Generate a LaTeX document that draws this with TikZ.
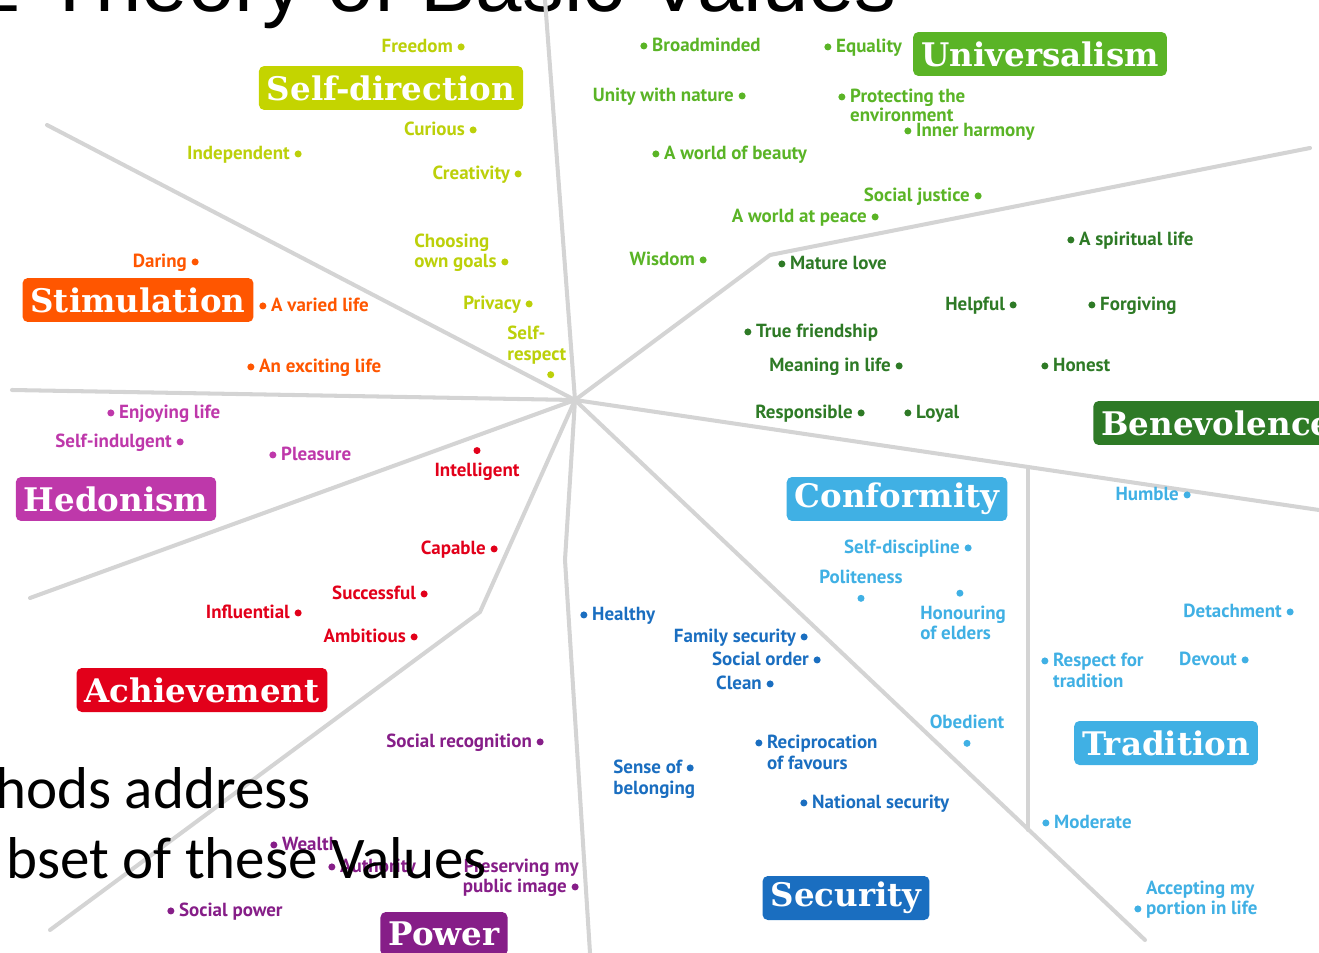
\documentclass[tikz,border=0pt]{standalone}
\usepackage{fontspec}
\setmainfont{Liberation Sans}
\newfontfamily\labelfont{PT Sans}
\newfontfamily\boxfont{DejaVu Serif}
\newfontfamily\slidefont{Carlito}
\usetikzlibrary{positioning}

\definecolor{sdcol}{RGB}{188,208,10}
\definecolor{sdbox}{RGB}{196,212,0}
\definecolor{uncol}{RGB}{90,180,38}
\definecolor{becol}{RGB}{46,122,38}
\definecolor{trcol}{RGB}{64,176,228}
\definecolor{secol}{RGB}{26,110,192}
\definecolor{pocol}{RGB}{134,30,136}
\definecolor{accol}{RGB}{226,0,26}
\definecolor{hecol}{RGB}{190,56,170}
\definecolor{stcol}{RGB}{255,86,0}
\definecolor{divcol}{RGB}{212,212,212}

\newcommand{\dt}{\tikz[baseline=-0.3em]\fill (0,0) circle (2pt);}

\begin{document}
\begin{tikzpicture}[x=0.02cm, y=-0.02cm,
    divider/.style = {draw=divcol, line width=2.3pt, line join=round, line cap=round},
    valbox/.style = {fill=#1, text=white, rounded corners=3pt, minimum height=0.88cm, inner xsep=0.16cm, font=\boxfont\bfseries\fontsize{18.5}{20}\selectfont},
    lbl/.style = {text=#1, inner sep=0pt, font=\labelfont\bfseries\fontsize{10.8}{11.6}\selectfont},
    slide/.style = {text=black, inner sep=0pt, font=\slidefont\fontsize{33.6}{40}\selectfont}]
    \useasboundingbox (0,0) rectangle (1319,953);
    \clip (0,0) rectangle (1319,953);

    \node[anchor=base east, inner sep=0pt, font=\fontsize{47.5}{52}\selectfont] (title) at (897,12) {Schwartz Theory of Basic Values};

    \coordinate (c) at (575,400);
    \coordinate (e1) at (545,0);
    \coordinate (e2) at (47,125);
    \coordinate (e3) at (12,390);
    \coordinate (e4) at (30,598);
    \coordinate (k5) at (480,612);
    \coordinate (e5) at (50,930);
    \coordinate (k6) at (565,560);
    \coordinate (e6) at (590,953);
    \coordinate (e7) at (1145,940);
    \coordinate (e8) at (1319,510);
    \coordinate (t1) at (1028,467);
    \coordinate (t2) at (1028,830);
    \coordinate (k10) at (770,255);
    \coordinate (e10) at (1310,148);
    \draw[divider] (c) -- (e1);
    \draw[divider] (c) -- (e2);
    \draw[divider] (c) -- (e3);
    \draw[divider] (c) -- (e4);
    \draw[divider] (c) -- (k5) -- (e5);
    \draw[divider] (c) -- (k6) -- (e6);
    \draw[divider] (c) -- (e7);
    \draw[divider] (c) -- (e8);
    \draw[divider] (t1) -- (t2);
    \draw[divider] (c) -- (k10) -- (e10);

    \node[lbl=sdcol, anchor=mid east] (freedom) at (465,48) {Freedom \dt};
    \node[lbl=sdcol, anchor=mid east] (curious) at (477,131) {Curious \dt};
    \node[lbl=sdcol, anchor=mid east] (indep) at (302,155) {Independent \dt};
    \node[lbl=sdcol, anchor=mid east] (creat) at (522,175) {Creativity \dt};
    \node[lbl=sdcol, anchor=mid west] (goals) at (414,263) {\begin{tabular}[b]{@{}l@{}}Choosing\\own goals \dt\end{tabular}};
    \node[lbl=sdcol, anchor=mid east] (privacy) at (533,305) {Privacy \dt};
    \node[lbl=sdcol, anchor=mid west] (selfresp) at (507,335) {\begin{tabular}[t]{@{}l@{}}Self-\\respect\\\hspace*{2.1em}\dt\end{tabular}};

    \node[lbl=uncol, anchor=mid west] (broad) at (640,47) {\dt\ Broadminded};
    \node[lbl=uncol, anchor=mid west] (equal) at (824,48) {\dt\ Equality};
    \node[lbl=uncol, anchor=mid east] (unity) at (746,97) {Unity with nature \dt};
    \node[lbl=uncol, anchor=mid west] (protect) at (838,98) {\renewcommand{\arraystretch}{0.82}\dt\ \begin{tabular}[t]{@{}l@{}}Protecting the\\environment\end{tabular}};
    \node[lbl=uncol, anchor=mid west] (inner) at (904,132) {\dt\ Inner harmony};
    \node[lbl=uncol, anchor=mid west] (beauty) at (652,155) {\dt\ A world of beauty};
    \node[lbl=uncol, anchor=mid east] (justice) at (982,197) {Social justice \dt};
    \node[lbl=uncol, anchor=mid east] (peace) at (879,218) {A world at peace \dt};
    \node[lbl=uncol, anchor=mid east] (wisdom) at (707,261) {Wisdom \dt};

    \node[lbl=becol, anchor=mid west] (spirit) at (1067,241) {\dt\ A spiritual life};
    \node[lbl=becol, anchor=mid west] (mature) at (778,265) {\dt\ Mature love};
    \node[lbl=becol, anchor=mid east] (helpful) at (1017,306) {Helpful \dt};
    \node[lbl=becol, anchor=mid west] (forgive) at (1088,306) {\dt\ Forgiving};
    \node[lbl=becol, anchor=mid west] (friend) at (744,333) {\dt\ True friendship};
    \node[lbl=becol, anchor=mid east] (meaning) at (903,367) {Meaning in life \dt};
    \node[lbl=becol, anchor=mid west] (honest) at (1041,367) {\dt\ Honest};
    \node[lbl=becol, anchor=mid east] (respons) at (865,414) {Responsible \dt};
    \node[lbl=becol, anchor=mid west] (loyal) at (904,414) {\dt\ Loyal};

    \node[lbl=trcol, anchor=mid east] (humble) at (1191,496) {Humble \dt};
    \node[lbl=trcol, anchor=mid east] (discip) at (972,549) {Self-discipline \dt};
    \node[lbl=trcol, anchor=mid] (polite) at (861,579) {\begin{tabular}[t]{@{}c@{}}Politeness\\\dt\end{tabular}};
    \node[lbl=trcol, anchor=mid west] (elders) at (920,635) {\begin{tabular}[b]{@{}l@{}}\hspace*{1.9em}\dt\\Honouring\\of elders\end{tabular}};
    \node[lbl=trcol, anchor=mid east] (detach) at (1294,613) {Detachment \dt};
    \node[lbl=trcol, anchor=mid west] (respect) at (1041,662) {\dt\ \begin{tabular}[t]{@{}l@{}}Respect for\\tradition\end{tabular}};
    \node[lbl=trcol, anchor=mid east] (devout) at (1249,661) {Devout \dt};
    \node[lbl=trcol, anchor=mid] (obed) at (967,724) {\begin{tabular}[t]{@{}c@{}}Obedient\\\dt\end{tabular}};
    \node[lbl=trcol, anchor=mid west] (moder) at (1042,824) {\dt\ Moderate};
    \node[lbl=trcol, anchor=mid west] (accept) at (1134,910) {\dt\ \begin{tabular}[b]{@{}l@{}}Accepting my\\portion in life\end{tabular}};

    \node[lbl=secol, anchor=mid west] (healthy) at (580,616) {\dt\ Healthy};
    \node[lbl=secol, anchor=mid east] (family) at (808,638) {Family security \dt};
    \node[lbl=secol, anchor=mid east] (order) at (821,661) {Social order \dt};
    \node[lbl=secol, anchor=mid east] (clean) at (774,685) {Clean \dt};
    \node[lbl=secol, anchor=mid west] (recip) at (755,744) {\dt\ \begin{tabular}[t]{@{}l@{}}Reciprocation\\of favours\end{tabular}};
    \node[lbl=secol, anchor=mid west] (belong) at (613,769) {\begin{tabular}[t]{@{}l@{}}Sense of \dt\\belonging\end{tabular}};
    \node[lbl=secol, anchor=mid west] (national) at (800,804) {\dt\ National security};

    \node[lbl=pocol, anchor=mid east] (recog) at (544,743) {Social recognition \dt};
    \node[lbl=pocol, anchor=mid west] (wealth) at (270,846) {\dt\ Wealth};
    \node[lbl=pocol, anchor=mid west] (author) at (328,868) {\dt\ Authority};
    \node[lbl=pocol, anchor=mid east] (public) at (579,888) {\begin{tabular}[b]{@{}r@{}}Preserving my\\public image \dt\end{tabular}};
    \node[lbl=pocol, anchor=mid west] (socpow) at (167,912) {\dt\ Social power};

    \node[lbl=accol, anchor=mid] (intel) at (477,472) {\begin{tabular}[b]{@{}c@{}}\dt\\Intelligent\end{tabular}};
    \node[lbl=accol, anchor=mid east] (capable) at (498,550) {Capable \dt};
    \node[lbl=accol, anchor=mid east] (success) at (428,595) {Successful \dt};
    \node[lbl=accol, anchor=mid east] (influ) at (302,614) {Influential \dt};
    \node[lbl=accol, anchor=mid east] (ambit) at (418,638) {Ambitious \dt};

    \node[lbl=hecol, anchor=mid west] (enjoy) at (107,414) {\dt\ Enjoying life};
    \node[lbl=hecol, anchor=mid east] (indulg) at (184,443) {Self-indulgent \dt};
    \node[lbl=hecol, anchor=mid west] (pleas) at (269,456) {\dt\ Pleasure};

    \node[lbl=stcol, anchor=mid east] (daring) at (199,263) {Daring \dt};
    \node[lbl=stcol, anchor=mid west] (varied) at (259,307) {\dt\ A varied life};
    \node[lbl=stcol, anchor=mid west] (exciting) at (247,368) {\dt\ An exciting life};

    \node[valbox=sdbox] (selfdir) at (391,88) {Self-direction};
    \node[valbox=uncol] (univ) at (1040,54) {Universalism};
    \node[valbox=stcol] (stim) at (138,300) {Stimulation};
    \node[valbox=hecol] (hedon) at (116,499) {Hedonism};
    \node[valbox=accol] (achiev) at (202,690) {Achievement};
    \node[valbox=pocol] (power) at (444,934) {Power};
    \node[valbox=secol] (secur) at (846,898) {Security};
    \node[valbox=trcol] (conform) at (897,499) {Conformity};
    \node[valbox=trcol] (trad) at (1166,743) {Tradition};
    \node[valbox=becol, anchor=west] (benev) at (1093,423) {Benevolence};

    \node[slide, anchor=base east] (line1) at (311,808) {hods address};
    \node[slide, anchor=base east] (line2) at (487,878) {bset of these Values};
\end{tikzpicture}
\end{document}
